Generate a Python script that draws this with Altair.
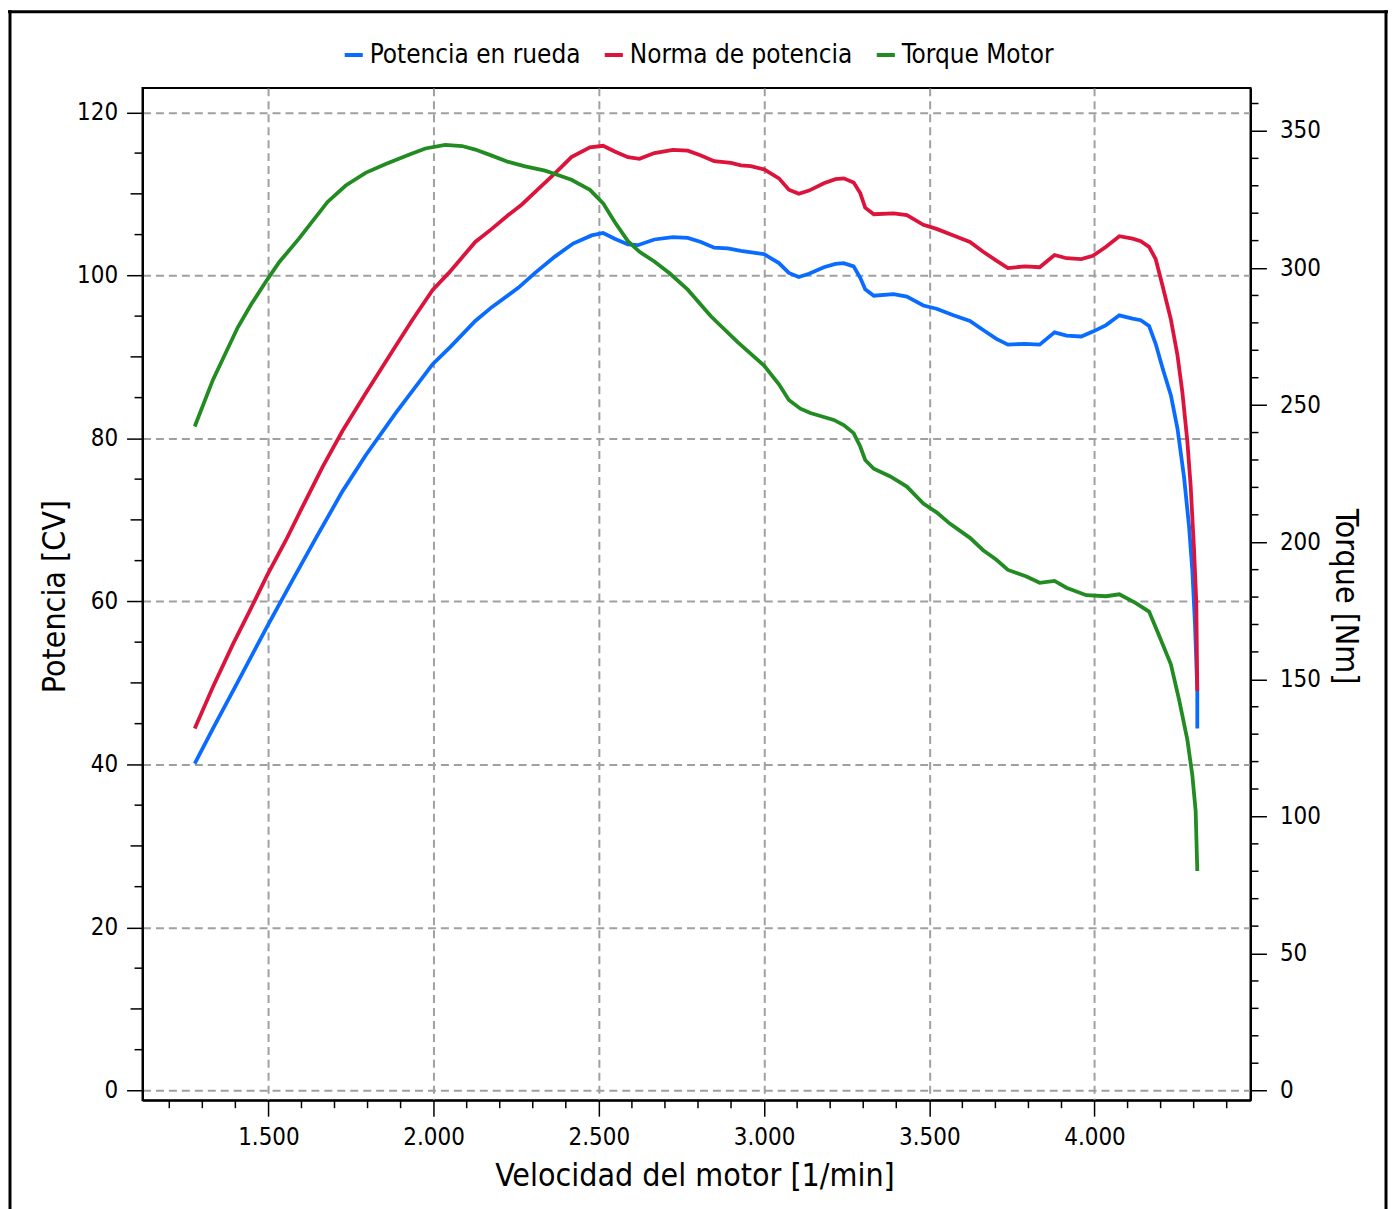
import altair as alt
import pandas as pd

# ---------------- data ----------------
series_names = ["Potencia en rueda", "Norma de potencia", "Torque Motor"]
series_colors = ["#0A6CFF", "#DC143C", "#228B22"]

rpm_rueda = [1277, 1332, 1403, 1496, 1573, 1644, 1724, 1794, 1885, 1997, 2050, 2126,
             2176, 2257, 2307, 2367, 2422, 2478, 2513, 2548, 2588, 2618, 2668, 2724,
             2769, 2809, 2849, 2890, 2930, 3000, 3045, 3075, 3105, 3136, 3181, 3216,
             3241, 3271, 3291, 3306, 3332, 3392, 3432, 3482, 3522, 3573, 3623, 3663,
             3703, 3738, 3789, 3834, 3879, 3915, 3960, 3995, 4035, 4075, 4115, 4140,
             4165, 4185, 4206, 4231, 4251, 4271, 4286, 4296, 4304, 4311, 4311]
cv_rueda = [40.1, 44.4, 49.8, 56.9, 62.6, 67.8, 73.5, 77.9, 83.1, 89.1, 91.2, 94.4,
            96.1, 98.5, 100.3, 102.3, 103.9, 104.9, 105.2, 104.5, 103.8, 103.7, 104.4, 104.7,
            104.6, 104.1, 103.4, 103.3, 103.0, 102.6, 101.5, 100.3, 99.8, 100.2, 101.0, 101.4,
            101.5, 101.1, 99.7, 98.3, 97.5, 97.7, 97.4, 96.3, 95.9, 95.1, 94.4, 93.3,
            92.2, 91.5, 91.6, 91.5, 93.0, 92.6, 92.5, 93.1, 93.9, 95.1, 94.7, 94.5,
            93.8, 91.6, 88.6, 85.3, 81.2, 75.2, 69.2, 63.8, 57.2, 49.0, 44.4]

rpm_norma = [1277, 1332, 1392, 1443, 1496, 1553, 1603, 1664, 1724, 1794, 1875, 1935,
             1997, 2046, 2086, 2126, 2176, 2226, 2267, 2317, 2367, 2417, 2473, 2513,
             2548, 2588, 2623, 2668, 2724, 2769, 2809, 2849, 2900, 2930, 2960, 3000,
             3045, 3075, 3105, 3136, 3181, 3216, 3241, 3271, 3291, 3306, 3332, 3392,
             3432, 3482, 3522, 3573, 3623, 3663, 3703, 3738, 3789, 3834, 3879, 3915,
             3960, 3995, 4035, 4075, 4115, 4140, 4165, 4185, 4206, 4231, 4251, 4266,
             4281, 4291, 4301, 4308, 4311]
cv_norma = [44.4, 49.5, 54.7, 58.8, 63.2, 67.5, 71.6, 76.5, 80.9, 85.5, 90.7, 94.5,
            98.2, 100.3, 102.2, 104.1, 105.7, 107.4, 108.7, 110.6, 112.5, 114.5, 115.7, 115.9,
            115.2, 114.5, 114.3, 115.0, 115.4, 115.3, 114.7, 114.0, 113.8, 113.5, 113.4, 113.0,
            111.9, 110.5, 110.0, 110.4, 111.3, 111.8, 111.9, 111.4, 110.1, 108.3, 107.5, 107.6,
            107.4, 106.2, 105.7, 104.9, 104.1, 102.9, 101.8, 100.9, 101.1, 101.0, 102.5, 102.1,
            102.0, 102.4, 103.5, 104.8, 104.5, 104.2, 103.5, 102.0, 98.7, 94.6, 90.2, 85.6,
            79.6, 74.1, 66.5, 59.9, 49.0]

rpm_torque = [1277, 1332, 1407, 1448, 1496, 1533, 1593, 1679, 1734, 1794, 1855, 1925,
              1975, 2035, 2086, 2126, 2176, 2226, 2277, 2337, 2367, 2417, 2473, 2513,
              2548, 2588, 2623, 2668, 2714, 2769, 2839, 2920, 3000, 3045, 3075, 3110,
              3140, 3211, 3241, 3271, 3291, 3306, 3332, 3382, 3432, 3482, 3522, 3562,
              3623, 3663, 3703, 3738, 3794, 3834, 3879, 3915, 3975, 4035, 4075, 4125,
              4165, 4195, 4231, 4256, 4281, 4296, 4306, 4311]
nm_torque = [242.2, 259.2, 278.3, 286.8, 295.7, 302.2, 310.8, 324.1, 330.1, 334.7, 337.9, 341.3,
             343.6, 344.9, 344.5, 343.2, 341.0, 338.7, 337.1, 335.5, 334.3, 332.2, 328.5, 323.6,
             316.8, 309.8, 305.9, 302.4, 298.1, 292.1, 282.4, 273.0, 264.4, 257.6, 251.9, 248.7,
             247.1, 244.6, 242.7, 239.8, 234.9, 230.0, 226.8, 224.0, 220.3, 214.1, 210.9, 206.8,
             201.6, 197.1, 193.6, 189.9, 187.5, 185.2, 185.9, 183.4, 180.7, 180.3, 181.0, 177.8,
             174.7, 166.1, 155.5, 142.5, 127.9, 115.0, 102.0, 80.1]

# tick values
x_major = [1500, 2000, 2500, 3000, 3500, 4000]
x_minor = [1200, 1300, 1400, 1600, 1700, 1800, 1900, 2100, 2200, 2300, 2400, 2600, 2700,
           2800, 2900, 3100, 3200, 3300, 3400, 3600, 3700, 3800, 3900, 4100, 4200, 4300, 4400]
left_major = [0, 20, 40, 60, 80, 100, 120]
left_mid = [10, 30, 50, 70, 90, 110]
left_minor = [5, 15, 25, 35, 45, 55, 65, 75, 85, 95, 105, 115]
right_major = [0, 50, 100, 150, 200, 250, 300, 350]
right_minor = [10, 20, 30, 40, 60, 70, 80, 90, 110, 120, 130, 140, 160, 170, 180, 190,
               210, 220, 230, 240, 260, 270, 280, 290, 310, 320, 330, 340, 360]

# ---------------- tables ----------------
power_df = pd.concat([
    pd.DataFrame({"rpm": rpm_rueda, "val": cv_rueda, "serie": series_names[0],
                  "idx": range(len(rpm_rueda))}),
    pd.DataFrame({"rpm": rpm_norma, "val": cv_norma, "serie": series_names[1],
                  "idx": range(len(rpm_norma))}),
], ignore_index=True)
torque_df = pd.DataFrame({"rpm": rpm_torque, "val": nm_torque, "serie": series_names[2],
                          "idx": range(len(rpm_torque))})

FONT = "DejaVu Sans Condensed, DejaVu Sans"
W, H = 1112, 1016
PAD_B = 107
TICK_W = 1.5
LINE_W = 3.8

xscale = alt.Scale(domain=[1119, 4472], nice=False, zero=False)
lscale = alt.Scale(domain=[-1.2, 123], nice=False, zero=False)
rscale = alt.Scale(domain=[-3.5, 365.7], nice=False, zero=False)

color = alt.Color(
    "serie:N",
    scale=alt.Scale(domain=series_names, range=series_colors),
    legend=alt.Legend(
        title=None, orient="none", direction="horizontal", columns=3,
        legendX=199, legendY=-46,
        symbolType="stroke", symbolSize=330, symbolStrokeWidth=4,
        labelFontSize=26, labelFont=FONT, labelColor="black", labelLimit=0,
        labelOffset=3, columnPadding=15,
    ),
)

power = alt.Chart(power_df).mark_line(strokeWidth=LINE_W, clip=True).encode(
    x=alt.X(
        "rpm:Q", scale=xscale,
        axis=alt.Axis(
            values=x_major, tickSize=16, labelOverlap=False,
            labelExpr="replace(format(datum.value, ','), ',', '.')",
            labelPadding=9,
            title="Velocidad del motor [1/min]",
            titleX=554, titleY=76, titleAlign="center", titleBaseline="middle",
        ),
    ),
    y=alt.Y(
        "val:Q", scale=lscale,
        axis=alt.Axis(
            orient="left", values=left_major, tickSize=16, labelOverlap=False,
            labelPadding=9,
            title="Potencia [CV]",
            titleX=-88, titleY=510, titleAngle=-90, titleAlign="center", titleBaseline="middle",
        ),
    ),
    color=color,
    detail="serie:N",
    order="idx:Q",
)

xminor_rules = alt.Chart(pd.DataFrame({"rpm": x_minor})).mark_rule(
    color="black", strokeWidth=TICK_W, clip=False
).encode(x=alt.X("rpm:Q", scale=xscale), y=alt.value(H), y2=alt.value(H + 8))

lmid_rules = alt.Chart(pd.DataFrame({"val": left_mid})).mark_rule(
    color="black", strokeWidth=TICK_W, clip=False
).encode(y=alt.Y("val:Q", scale=lscale), x=alt.value(-12), x2=alt.value(0))

lminor_rules = alt.Chart(pd.DataFrame({"val": left_minor})).mark_rule(
    color="black", strokeWidth=TICK_W, clip=False
).encode(y=alt.Y("val:Q", scale=lscale), x=alt.value(-8), x2=alt.value(0))

torque = alt.Chart(torque_df).mark_line(strokeWidth=LINE_W, clip=True).encode(
    x=alt.X("rpm:Q", scale=xscale),
    y=alt.Y(
        "val:Q", scale=rscale,
        axis=alt.Axis(
            orient="right", values=right_major, tickSize=16, labelOverlap=False,
            labelPadding=13,
            title="Torque [Nm]",
            titleX=95, titleY=510, titleAngle=90, titleAlign="center", titleBaseline="middle",
        ),
    ),
    color=color,
    order="idx:Q",
)

rminor_rules = alt.Chart(pd.DataFrame({"val": right_minor})).mark_rule(
    color="black", strokeWidth=TICK_W, clip=False
).encode(y=alt.Y("val:Q", scale=rscale), x=alt.value(W), x2=alt.value(W + 8))

# outer frame of the picture (left, top and right edges)
frame_df = pd.DataFrame({"k": [0]})
frame_left = alt.Chart(frame_df).mark_rule(color="black", strokeWidth=3, clip=False).encode(
    x=alt.value(-133), y=alt.value(-78), y2=alt.value(H + PAD_B + 20))
frame_right = alt.Chart(frame_df).mark_rule(color="black", strokeWidth=3, clip=False).encode(
    x=alt.value(1248), y=alt.value(-78), y2=alt.value(H + PAD_B + 20))
frame_top = alt.Chart(frame_df).mark_rule(color="black", strokeWidth=3, clip=False).encode(
    y=alt.value(-76.5), x=alt.value(-135), x2=alt.value(1250))

left_group = alt.layer(power, xminor_rules, lmid_rules, lminor_rules)
right_group = alt.layer(torque, rminor_rules)

chart = alt.layer(left_group, right_group, frame_left, frame_right, frame_top).resolve_scale(
    y="independent"
).properties(
    width=W, height=H,
    autosize=alt.AutoSizeParams(type="none"),
    padding={"left": 135, "top": 78, "right": 139, "bottom": PAD_B},
    background="white",
).configure_view(
    stroke="black", strokeWidth=2
).configure_axis(
    labelFont=FONT, labelFontSize=24, labelColor="black",
    titleFont=FONT, titleFontSize=32, titleFontWeight="normal", titleColor="black",
    domainColor="black", domainWidth=2,
    tickColor="black", tickWidth=TICK_W,
    gridColor="#a0a0a0", gridDash=[8, 5], gridWidth=2,
)

chart.save("out.html", embed_options={"renderer": "svg", "actions": False})
